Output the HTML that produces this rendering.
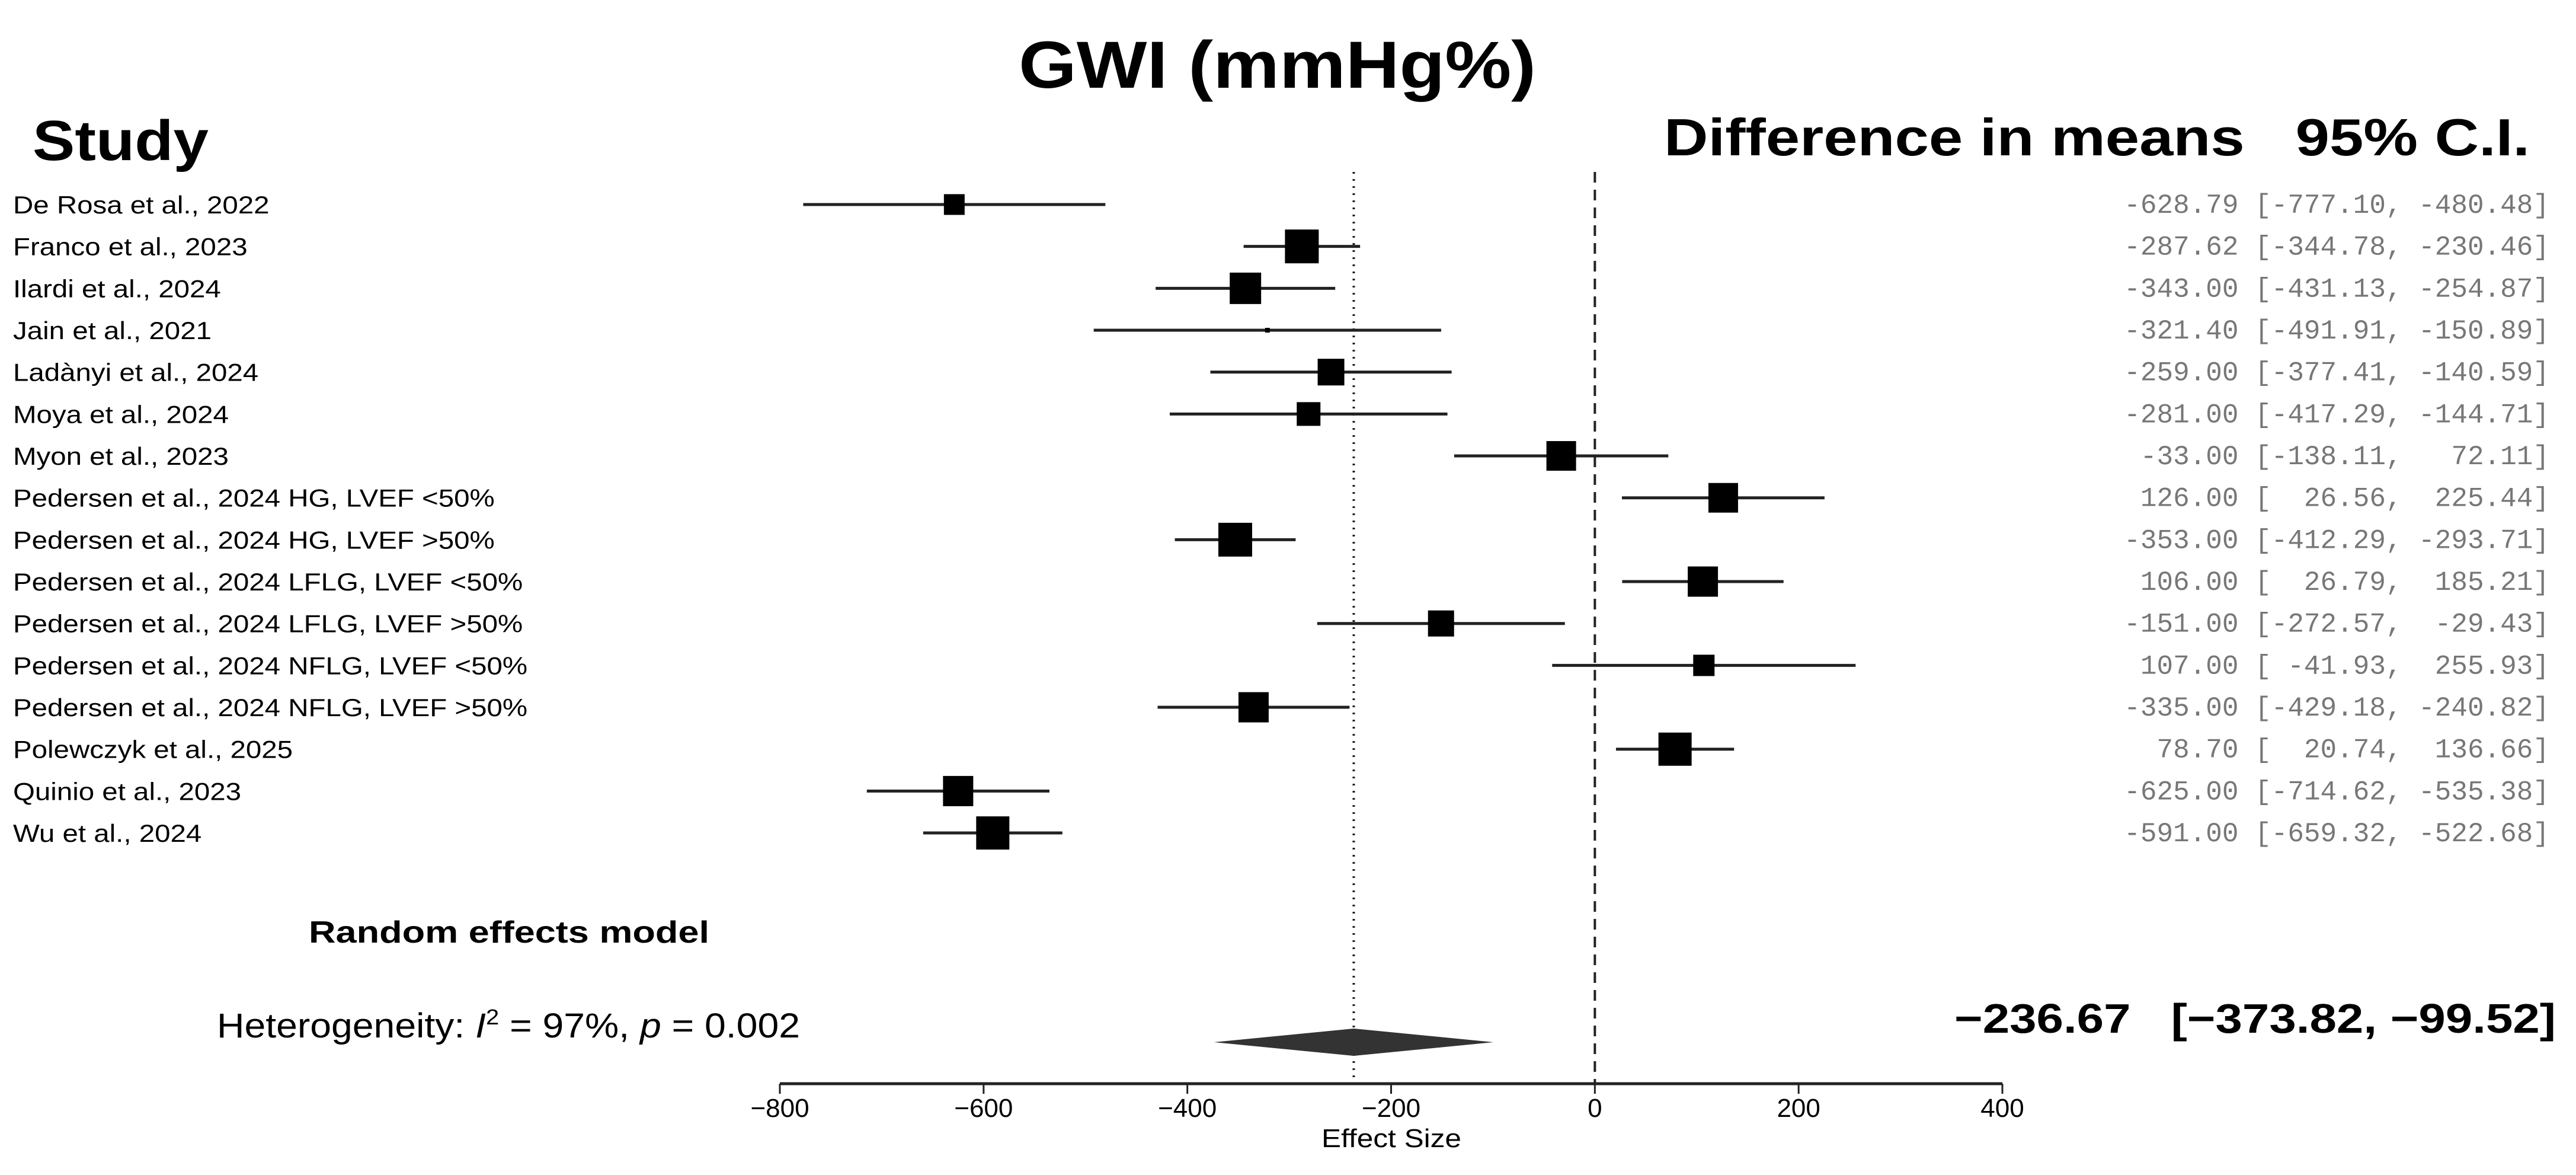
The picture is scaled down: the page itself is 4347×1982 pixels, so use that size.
<!DOCTYPE html>
<html><head><meta charset="utf-8"><style>
html,body{margin:0;padding:0;background:#fff;}
svg{display:block;}
text{font-family:"Liberation Sans",Arial,sans-serif;}
.mono{font-family:"Liberation Mono",monospace;fill:#777;white-space:pre;}
</style></head><body>
<svg id="chart" width="4347" height="1982" viewBox="0 0 4347 1982" xmlns="http://www.w3.org/2000/svg">
<text x="1719" y="148" font-size="112" font-weight="bold" textLength="873" lengthAdjust="spacingAndGlyphs">GWI (mmHg%)</text>
<text x="55" y="270" font-size="96" font-weight="bold" textLength="297" lengthAdjust="spacingAndGlyphs">Study</text>
<text x="2808" y="262" font-size="88" font-weight="bold" textLength="1461" lengthAdjust="spacingAndGlyphs" style="white-space:pre">Difference in means   95% C.I.</text>
<g id="marks"></g>
<text x="521" y="1590" font-size="52" font-weight="bold" textLength="676" lengthAdjust="spacingAndGlyphs">Random effects model</text>
<text x="366" y="1750" font-size="58" textLength="984" lengthAdjust="spacingAndGlyphs">Heterogeneity: <tspan font-style="italic">I</tspan><tspan font-size="36" dy="-22">2</tspan><tspan dy="22"> = 97%, </tspan><tspan font-style="italic">p</tspan> = 0.002</text>
<text x="3298" y="1742" font-size="70" font-weight="bold" textLength="1015" lengthAdjust="spacingAndGlyphs" style="white-space:pre">−236.67   [−373.82, −99.52]</text>
<text x="2348" y="1935" font-size="44" text-anchor="middle" textLength="236" lengthAdjust="spacingAndGlyphs">Effect Size</text>
</svg>
<script>
const studies=["De Rosa et al., 2022","Franco et al., 2023","Ilardi et al., 2024","Jain et al., 2021","Ladànyi et al., 2024","Moya et al., 2024","Myon et al., 2023","Pedersen et al., 2024 HG, LVEF <50%","Pedersen et al., 2024 HG, LVEF >50%","Pedersen et al., 2024 LFLG, LVEF <50%","Pedersen et al., 2024 LFLG, LVEF >50%","Pedersen et al., 2024 NFLG, LVEF <50%","Pedersen et al., 2024 NFLG, LVEF >50%","Polewczyk et al., 2025","Quinio et al., 2023","Wu et al., 2024"];
const means=[-628.79,-287.62,-343.00,-321.40,-259.00,-281.00,-33.00,126.00,-353.00,106.00,-151.00,107.00,-335.00,78.70,-625.00,-591.00];
const lower=[-777.10,-344.78,-431.13,-491.91,-377.41,-417.29,-138.11,26.56,-412.29,26.79,-272.57,-41.93,-429.18,20.74,-714.62,-659.32];
const upper=[-480.48,-230.46,-254.87,-150.89,-140.59,-144.71,72.11,225.44,-293.71,185.21,-29.43,255.93,-240.82,136.66,-535.38,-522.68];
const weights=[35,57,53,8,45,40,50,50,57,51,44,36,51,56,51,56];
const xTicks=[-800,-600,-400,-200,0,200,400];
const summary=[-236.67,-373.82,-99.52];
const NS="http://www.w3.org/2000/svg";
const g=document.getElementById('marks');
const X=v=>1316+(v+800)*(3379-1316)/1200;
const Y=i=>345+i*70.67;
function mk(t,a){const e=document.createElementNS(NS,t);for(const k in a)e.setAttribute(k,a[k]);g.appendChild(e);return e;}
const f=v=>v.toFixed(2);
const pad=(s,n)=>s.padStart(n," ");
let l=mk('line',{x1:X(summary[0]),x2:X(summary[0]),y1:290,y2:1828,stroke:'#222','stroke-width':4,'stroke-dasharray':'3 9'});


l=mk('line',{x1:X(0),x2:X(0),y1:290,y2:1828,stroke:'#222','stroke-width':4,'stroke-dasharray':'18 12'});


studies.forEach((s,i)=>{
  const y=Y(i);
  let t=mk('text',{x:22/1.13,y:y+15,'font-size':42,transform:'scale(1.13,1)'});t.textContent=s;
  
  
  let ci=mk('line',{x1:X(lower[i]),x2:X(upper[i]),y1:y,y2:y,stroke:'#222','stroke-width':5});
  
  
  const w=weights[i];
  let r=mk('rect',{x:X(means[i])-w/2,y:y-w/2,width:w,height:w,fill:'#000'});
  
  
  let v=mk('text',{x:4302,y:y+14,'font-size':46,'text-anchor':'end','class':'mono'});
  v.textContent=pad(f(means[i]),7)+" ["+pad(f(lower[i]),7)+", "+pad(f(upper[i]),7)+"]";
  
  
});
const dy=1758,dh=23;
let d=mk('polygon',{points:`${X(summary[1])},${dy} ${X(summary[0])},${dy-dh} ${X(summary[2])},${dy} ${X(summary[0])},${dy+dh}`,fill:'#333'});


let ax=mk('line',{x1:X(xTicks[0]),x2:X(xTicks[xTicks.length-1]),y1:1828,y2:1828,stroke:'#222','stroke-width':5});


xTicks.forEach(v=>{
  let tk=mk('line',{x1:X(v),x2:X(v),y1:1828,y2:1845,stroke:'#222','stroke-width':3});
  
  
  let tl=mk('text',{x:X(v),y:1884,'font-size':44,'text-anchor':'middle'});
  tl.textContent=v<0?"−"+Math.abs(v):String(v);
  
  
});
</script>
</body></html>
